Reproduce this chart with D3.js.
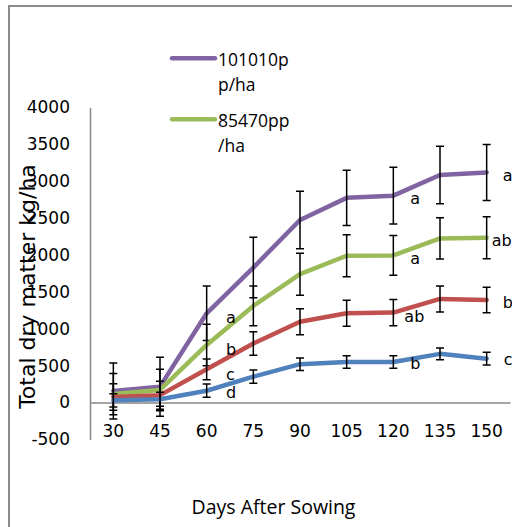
<!DOCTYPE html>
<html>
<head>
<meta charset="utf-8">
<script src="https://cdn.jsdelivr.net/npm/d3@7"></script>
<style>
  body { margin: 0; background: #fff; }
  svg { display: block; }
</style>
</head>
<body>
<div id="chart"></div>
<script>
// data
var days = ['30', '45', '60', '75', '90', '105', '120', '135', '150'];
var yTicks = [-500, 0, 500, 1000, 1500, 2000, 2500, 3000, 3500, 4000];

var names = ['101010pp/ha', '85470pp/ha', '71430pp/ha', '62500pp/ha'];
var purple_vals = [155, 215, 1210, 1830, 2475, 2775, 2805, 3085, 3120];
var purple_err  = [380, 400, 370, 410, 390, 375, 385, 390, 380];
var green_vals  = [115, 170, 780, 1310, 1740, 1990, 1995, 2225, 2235];
var green_err   = [280, 280, 280, 270, 285, 285, 270, 280, 285];
var red_vals    = [75, 100, 450, 800, 1095, 1210, 1220, 1405, 1390];
var red_err     = [180, 190, 140, 160, 175, 175, 178, 176, 172];
var blue_vals   = [30, 45, 160, 350, 520, 550, 550, 660, 595];
var blue_err    = [90, 95, 90, 90, 85, 85, 85, 80, 85];

// significance letters: text, day position (fractional index), value at baseline
var letter_text = ['a', 'b', 'c', 'd', 'a', 'a', 'ab', 'b', 'a', 'ab', 'b', 'c'];
var letter_pos  = [2.5, 2.5, 2.5, 2.5, 6, 6, 6, 6, 8, 8, 8, 8];
var letter_vals = [1078, 644, 305, 61, 2692, 1878, 1092, 450, 3003, 2126, 1277, 508];
var letter_dx   = [-4, -4, -4, -4, 17, 17, 11, 17, 16, 5, 16, 17];

var colors = ['#8064A2', '#9BBB59', '#C0504D', '#4F81BD'];
var series = [
    {name: names[0], vals: purple_vals, err: purple_err, color: colors[0]},
    {name: names[1], vals: green_vals, err: green_err, color: colors[1]},
    {name: names[2], vals: red_vals, err: red_err, color: colors[2]},
    {name: names[3], vals: blue_vals, err: blue_err, color: colors[3]}
];

var width = 512, height = 527;

var svg = d3.select('#chart').append('svg')
    .attr('width', width).attr('height', height);

// outer frame (top and left edges only)
svg.append('path')
    .attr('d', 'M8,6H512M9,6V527')
    .attr('fill', 'none').attr('stroke', '#8c8c8c').attr('stroke-width', 2);

var x = d3.scaleBand().domain(days).range([90, 510]).padding(0);
var y = d3.scaleLinear().domain([-500, 4000]).range([439.4, 107.5]);

function cx(i) { return x(days[0]) + x.bandwidth() * (i + 0.5); }

// y axis
var yAxis = svg.append('g').attr('transform', 'translate(90,0)')
    .call(d3.axisLeft(y).tickValues(yTicks)
        .tickFormat(function(d) { return String(d); })
        .tickSize(0).tickSizeOuter(0).tickPadding(20));
yAxis.select('.domain').attr('stroke', '#868686').attr('stroke-width', 1.5);
yAxis.selectAll('text')
    .attr('font-family', 'DejaVu Sans').attr('font-size', '17px').attr('fill', '#000');

// x axis at zero, labels at the bottom of plot
var xAxis = svg.append('g').attr('transform', 'translate(0,' + y(0) + ')')
    .call(d3.axisBottom(x).tickSize(0).tickSizeOuter(0).tickPadding(22.5));
xAxis.select('.domain').attr('stroke', '#868686').attr('stroke-width', 1.5);
xAxis.selectAll('text')
    .attr('font-family', 'DejaVu Sans').attr('font-size', '17px').attr('fill', '#000');

// lines
var line = d3.line()
    .x(function(d, i) { return cx(i); })
    .y(function(d) { return y(d); });

var ser_group = svg.selectAll('g.series')
    .data(series).enter().append('g').attr('class', 'series');

ser_group.append('path')
    .attr('d', function(d) { return line(d.vals); })
    .attr('fill', 'none')
    .attr('stroke', function(d) { return d.color; })
    .attr('stroke-width', 4.5)
    .attr('stroke-linejoin', 'round').attr('stroke-linecap', 'round');

// error bars
ser_group.each(function(s) {
    var g = d3.select(this);
    s.vals.forEach(function(v, i) {
        var lo = y(v - s.err[i]), hi = y(v + s.err[i]), xx = cx(i);
        g.append('path')
            .attr('d', 'M' + xx + ',' + lo + 'V' + hi +
                'M' + (xx - 4) + ',' + hi + 'H' + (xx + 4) +
                'M' + (xx - 4) + ',' + lo + 'H' + (xx + 4))
            .attr('fill', 'none').attr('stroke', '#000').attr('stroke-width', 1.5);
    });
});

// letters
letter_text.forEach(function(t, i) {
    svg.append('text')
        .attr('x', cx(letter_pos[i]) + letter_dx[i])
        .attr('y', y(letter_vals[i]))
        .attr('font-family', 'DejaVu Sans').attr('font-size', '16px')
        .attr('fill', '#000')
        .text(t);
});

// axis titles
svg.append('text')
    .attr('transform', 'translate(35,286.5) rotate(-90)')
    .style('text-anchor', 'middle')
    .attr('font-family', 'DejaVu Sans').attr('font-size', '22px')
    .text('Total dry matter kg/ha');

svg.append('text')
    .attr('x', 273.5).attr('y', 514)
    .style('text-anchor', 'middle')
    .attr('font-family', 'Open Sans').attr('font-size', '19.5px')
    .text('Days After Sowing');

// legend (only the first two entries are visible)
var legend_lines = [['101010p', 'p/ha'], ['85470pp', '/ha']];
var leg = svg.selectAll('g.legend')
    .data(legend_lines).enter().append('g').attr('class', 'legend');

leg.append('line')
    .attr('x1', 172).attr('x2', 215)
    .attr('y1', function(d, i) { return 58.3 + i * 61; })
    .attr('y2', function(d, i) { return 58.3 + i * 61; })
    .attr('stroke', function(d, i) { return colors[i]; })
    .attr('stroke-width', 4.5).attr('stroke-linecap', 'round');

leg.append('text')
    .attr('x', 218).attr('y', function(d, i) { return 66 + i * 61; })
    .attr('font-family', 'Open Sans').attr('font-size', '17.5px')
    .text(function(d) { return d[0]; });

leg.append('text')
    .attr('x', 218).attr('y', function(d, i) { return 91 + i * 61; })
    .attr('font-family', 'Open Sans').attr('font-size', '17.5px')
    .text(function(d) { return d[1]; });
</script>
</body>
</html>
